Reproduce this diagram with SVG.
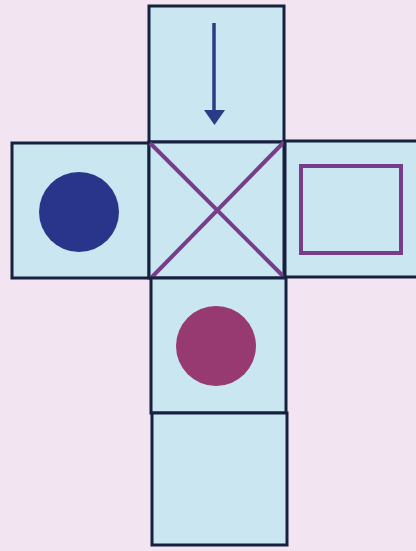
<svg xmlns="http://www.w3.org/2000/svg" width="416" height="551" viewBox="0 0 416 551">
<style>
.face{fill:#c9e6f1;stroke:#16203f;stroke-width:3}
.mark{fill:none;stroke:#763e8a;stroke-width:4}
</style>
<rect width="416" height="551" fill="#f2e4f0"/>
<g id="face-top">
<rect class="face" x="149" y="6" width="135" height="136"/>
<line x1="214" y1="23" x2="214" y2="112" stroke="#2b3b85" stroke-width="3.5"/>
<polygon points="204,110 225,110 214.5,125" fill="#2b3b85"/>
</g>
<g id="face-left">
<rect class="face" x="12" y="143" width="137" height="135"/>
<circle cx="79" cy="212" r="40" fill="#28358a"/>
</g>
<g id="face-center">
<rect class="face" x="149" y="142" width="135" height="136"/>
<line class="mark" x1="150" y1="143" x2="285" y2="278"/>
<line class="mark" x1="284" y1="142" x2="151" y2="278"/>
</g>
<g id="face-right">
<rect class="face" x="285" y="141" width="140" height="136"/>
<rect class="mark" x="301" y="166" width="100" height="87"/>
</g>
<g id="face-bottom1">
<rect class="face" x="151" y="278" width="135" height="135"/>
<circle cx="216" cy="346" r="40" fill="#983a72"/>
</g>
<g id="face-bottom2">
<rect class="face" x="152" y="413" width="135" height="132"/>
</g>
</svg>
